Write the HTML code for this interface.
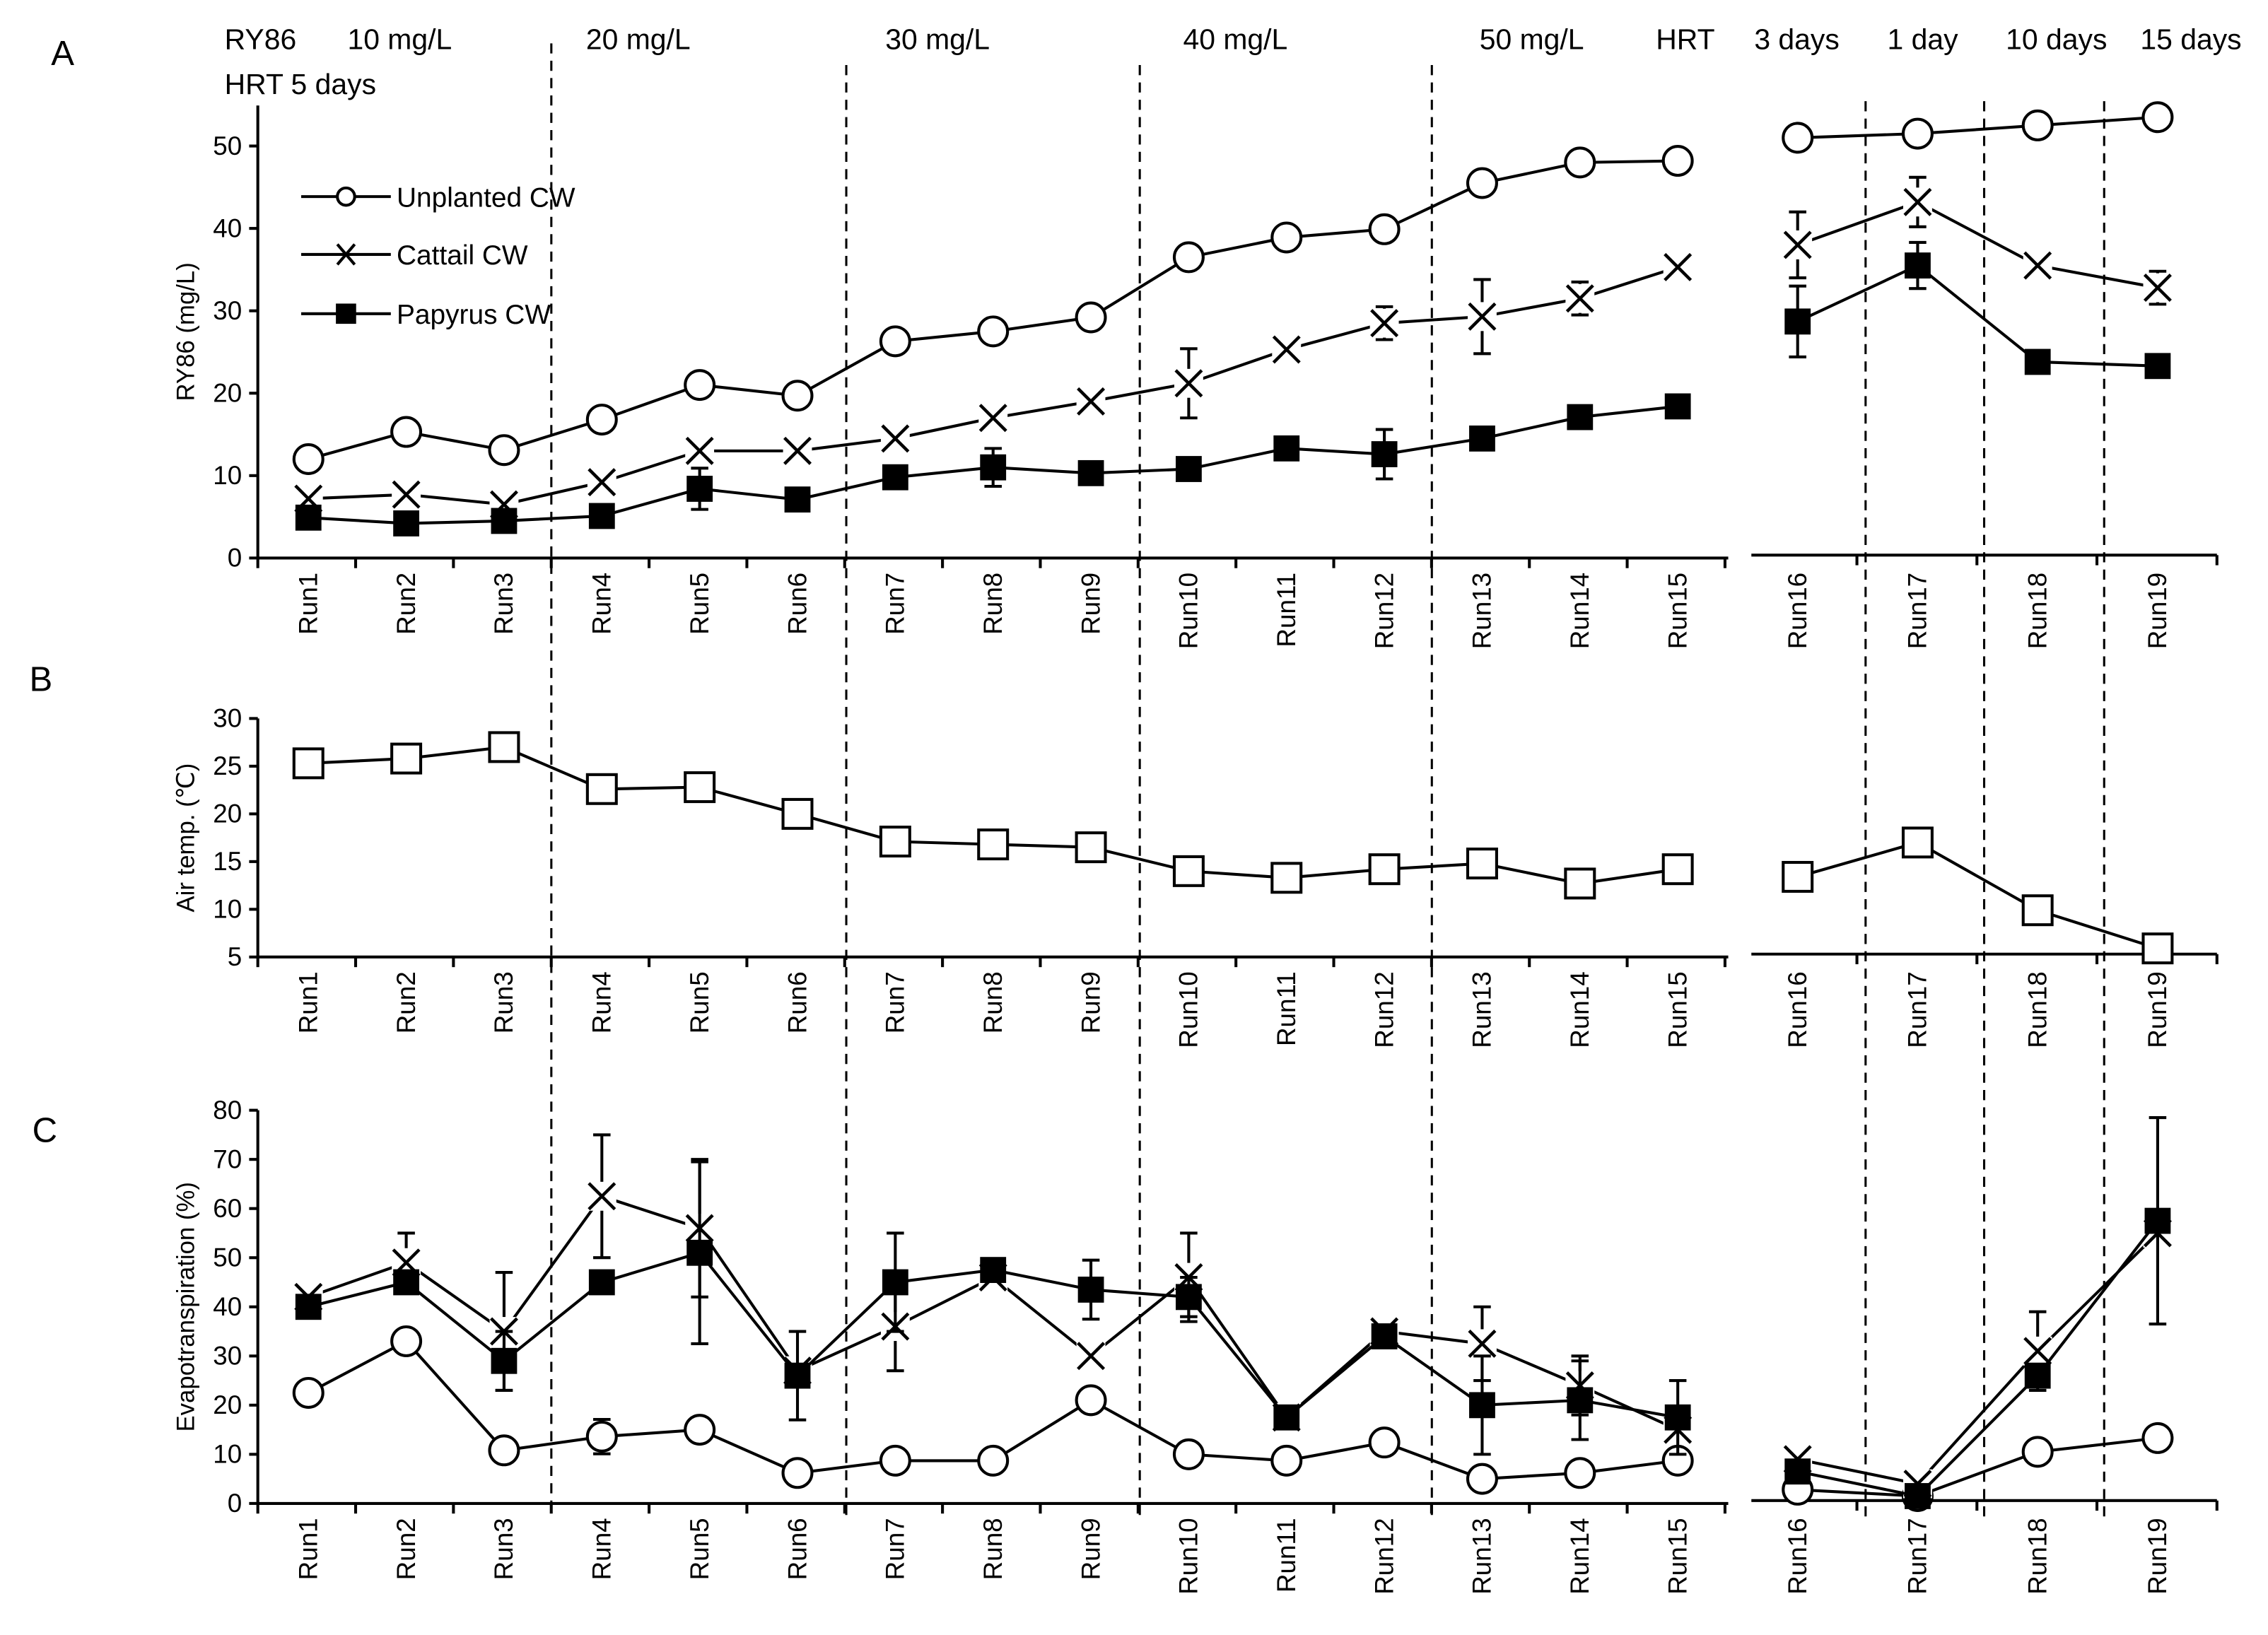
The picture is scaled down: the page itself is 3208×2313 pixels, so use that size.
<!DOCTYPE html>
<html><head><meta charset="utf-8"><style>
html,body{margin:0;padding:0;background:#fff}
svg{display:block}
text{font-family:"Liberation Sans","DejaVu Sans",sans-serif;fill:#000}
</style></head><body>
<svg id="chart" width="3208" height="2313" viewBox="0 0 1568 1131" xmlns="http://www.w3.org/2000/svg"></svg>
<script>
const runs=["Run1","Run2","Run3","Run4","Run5","Run6","Run7","Run8","Run9","Run10","Run11","Run12","Run13","Run14","Run15","Run16","Run17","Run18","Run19"];
const ryUnplanted=[12,15.3,13.1,16.8,21,19.7,26.3,27.5,29.2,36.5,38.9,39.9,45.5,48,48.2,51,51.5,52.5,53.5];
const ryCattail=[7.2,7.7,6.5,9.2,13,13,14.5,17,19,21.2,25.3,28.5,29.3,31.5,35.3,38,43.2,35.5,32.8];
const ryCattailErr=[0,0,0,0,0,0,0,0,0,4.2,0,2,4.5,2,0,4,3,0,2];
const ryPapyrus=[4.9,4.2,4.5,5.1,8.4,7.1,9.8,11,10.3,10.8,13.3,12.6,14.5,17.1,18.4,28.7,35.5,23.8,23.3];
const ryPapyrusErr=[0,0,0,0,2.5,0,0,2.3,0,0,0,3,0,0,0,4.3,2.8,0,0];
const airTemp=[25.3,25.8,27,22.6,22.8,20,17.1,16.8,16.5,14,13.3,14.2,14.8,12.7,14.2,13.4,17,9.9,5.9];
const etUnplanted=[22.5,33,10.8,13.6,15,6.2,8.7,8.7,21,10,8.7,12.4,5,6.2,8.7,2.8,1.5,10.5,13.3];
const etUnplantedErr=[0,0,0,3.5,0,0,0,0,0,0,0,0,0,0,0,0,0,0,0];
const etCattail=[42,49,35,62.5,56,27,36,46,30,46,17.5,35,32.5,24,15,9,4,31,55];
const etCattailErr=[0,6,12,12.5,14,0,9,0,0,9,0,0,7.5,6,0,0,0,8,0];
const etPapyrus=[40,45,29,45,51,26,45,47.5,43.5,42,17.5,34,20,21,17.5,6.5,1.5,26,57.5];
const etPapyrusErr=[0,0,6,0,18.5,9,10,0,6,4,0,0,10,8,7.5,0,0,0,21];
const ticksA=[0,10,20,30,40,50];
const ticksB=[5,10,15,20,25,30];
const ticksC=[0,10,20,30,40,50,60,70,80];

const svg=document.getElementById('chart');
const NS="http://www.w3.org/2000/svg";
function mk(tag,attrs,name,inter,parent){
  const e=document.createElementNS(NS,tag);
  for(const k in attrs)e.setAttribute(k,attrs[k]);
  
  
  (parent||svg).appendChild(e);return e;
}
function xOf(i){return i<15?213+i*67.65:1243+(i-15)*83;}
function txt(x,y,s,size,name,anchor,rot){
  const t=mk('text',{x:x,y:y,'font-size':size,'text-anchor':anchor||'start'},name,false);
  if(rot)t.setAttribute('transform','rotate(-90 '+x+' '+y+')');
  t.textContent=s;return t;
}
// dashed dividers
[[381,30],[585,45],[788,45],[990,45],[1290,70],[1372,70],[1455,70]].forEach((d,k)=>{
  mk('line',{x1:d[0],y1:d[1],x2:d[0],y2:1050,stroke:'#000','stroke-width':1.5,'stroke-dasharray':'7,5'},'divider-'+(k+1),false);
});
// header texts
const hdr=[["RY86",155],["10 mg/L",240],["20 mg/L",405],["30 mg/L",612],["40 mg/L",818],["50 mg/L",1023],["HRT",1145],["3 days",1213],["1 day",1305],["10 days",1387],["15 days",1480]];
hdr.forEach(h=>txt(h[1],34,h[0],20,'header-label'));
txt(155,65,"HRT 5 days",20,'header-hrt-label');
txt(35,45,"A",24,'panel-label-a');
txt(20,478,"B",24,'panel-label-b');
txt(22,790,"C",24,'panel-label-c');

function panel(p){
  const y=v=>p.y0-(v-p.min)*p.k;
  mk('line',{x1:178,y1:p.top,x2:178,y2:p.y0,stroke:'#000','stroke-width':2},p.id+'-y-axis',false);
  mk('line',{x1:178,y1:p.y0,x2:1195,y2:p.y0,stroke:'#000','stroke-width':2},p.id+'-x-axis-left',false);
  mk('line',{x1:1211,y1:p.y0-2,x2:1533,y2:p.y0-2,stroke:'#000','stroke-width':2},p.id+'-x-axis-right',false);
  p.ticks.forEach(t=>{
    mk('line',{x1:172,y1:y(t),x2:178,y2:y(t),stroke:'#000','stroke-width':2},p.id+'-y-tick',false);
    txt(167,y(t)+6,String(t),18,p.id+'-y-tick-label','end');
  });
  for(let k=0;k<=15;k++){const x=178+k*67.65;mk('line',{x1:x,y1:p.y0,x2:x,y2:p.y0+7,stroke:'#000','stroke-width':2},p.id+'-x-tick',false);}
  for(let k=0;k<4;k++){const x=1284+k*83;mk('line',{x1:x,y1:p.y0-2,x2:x,y2:p.y0+5,stroke:'#000','stroke-width':2},p.id+'-x-tick',false);}
  runs.forEach((r,i)=>txt(xOf(i)+6,p.y0+10,r,18,p.id+'-x-tick-label','end',true));
  txt(p.titleX,(p.top+p.y0)/2,p.title,17,p.id+'-y-axis-title','middle',true);
  p.series.forEach(s=>{
    const g=mk('g',{},p.id+'-series-'+s.name,false);
    [[0,15],[15,19]].forEach(seg=>{
      let d='';for(let i=seg[0];i<seg[1];i++)d+=(i==seg[0]?'M':'L')+xOf(i)+','+y(s.vals[i]);
      mk('path',{d:d,fill:'none',stroke:'#000','stroke-width':2},p.id+'-line-'+s.name,false,g);
    });
    s.vals.forEach((v,i)=>{
      const cx=xOf(i),cy=y(v),e=s.err?s.err[i]:0;
      if(e>0){
        const a=y(v+e),b=y(v-e);
        mk('path',{d:`M${cx},${a}L${cx},${b}M${cx-6},${a}L${cx+6},${a}M${cx-6},${b}L${cx+6},${b}`,stroke:'#000','stroke-width':2,fill:'none'},p.id+'-errorbar-'+s.name,false,g);
      }
      if(s.m=='o')mk('circle',{cx:cx,cy:cy,r:10,fill:'#fff',stroke:'#000','stroke-width':2},p.id+'-point-'+s.name,false,g);
      else if(s.m=='s')mk('rect',{x:cx-9,y:cy-9,width:18,height:18,fill:'#000'},p.id+'-point-'+s.name,false,g);
      else if(s.m=='so')mk('rect',{x:cx-10,y:cy-10,width:20,height:20,fill:'#fff',stroke:'#000','stroke-width':2},p.id+'-point-'+s.name,false,g);
      else{mk('rect',{x:cx-10,y:cy-10,width:20,height:20,fill:'#fff'},p.id+'-point-bg',false,g);
        mk('path',{d:`M${cx-9},${cy-9}L${cx+9},${cy+9}M${cx+9},${cy-9}L${cx-9},${cy+9}`,stroke:'#000','stroke-width':2.2},p.id+'-point-'+s.name,false,g);}
    });
  });
}
panel({id:'panel-a',y0:386,top:73,min:0,k:5.7,ticks:ticksA,title:'RY86 (mg/L)',titleX:134,
  series:[{name:'unplanted',vals:ryUnplanted,m:'o'},{name:'cattail',vals:ryCattail,err:ryCattailErr,m:'x'},{name:'papyrus',vals:ryPapyrus,err:ryPapyrusErr,m:'s'}]});
panel({id:'panel-b',y0:662,top:497,min:5,k:6.6,ticks:ticksB,title:'Air temp. (℃)',titleX:134,
  series:[{name:'air-temp',vals:airTemp,m:'so'}]});
panel({id:'panel-c',y0:1040,top:768,min:0,k:3.4,ticks:ticksC,title:'Evapotranspiration (%)',titleX:134,
  series:[{name:'unplanted',vals:etUnplanted,err:etUnplantedErr,m:'o'},{name:'cattail',vals:etCattail,err:etCattailErr,m:'x'},{name:'papyrus',vals:etPapyrus,err:etPapyrusErr,m:'s'}]});
// legend
const lg=mk('g',{},'legend',false);
[["Unplanted CW",136,'o'],["Cattail CW",176,'x'],["Papyrus CW",217,'s']].forEach(l=>{
  mk('line',{x1:208,y1:l[1],x2:270,y2:l[1],stroke:'#000','stroke-width':2},'legend-line',false,lg);
  const cx=239,cy=l[1];
  if(l[2]=='o')mk('circle',{cx:cx,cy:cy,r:6,fill:'#fff',stroke:'#000','stroke-width':2},'legend-marker',false,lg);
  else if(l[2]=='s')mk('rect',{x:cx-7,y:cy-7,width:14,height:14,fill:'#000'},'legend-marker',false,lg);
  else mk('path',{d:`M${cx-6},${cy-7}L${cx+6},${cy+7}M${cx+6},${cy-7}L${cx-6},${cy+7}`,stroke:'#000','stroke-width':2},'legend-marker',false,lg);
  const t=mk('text',{x:274,y:cy+7,'font-size':19},'legend-entry',false,lg);t.textContent=l[0];
});
</script>
</body></html>
